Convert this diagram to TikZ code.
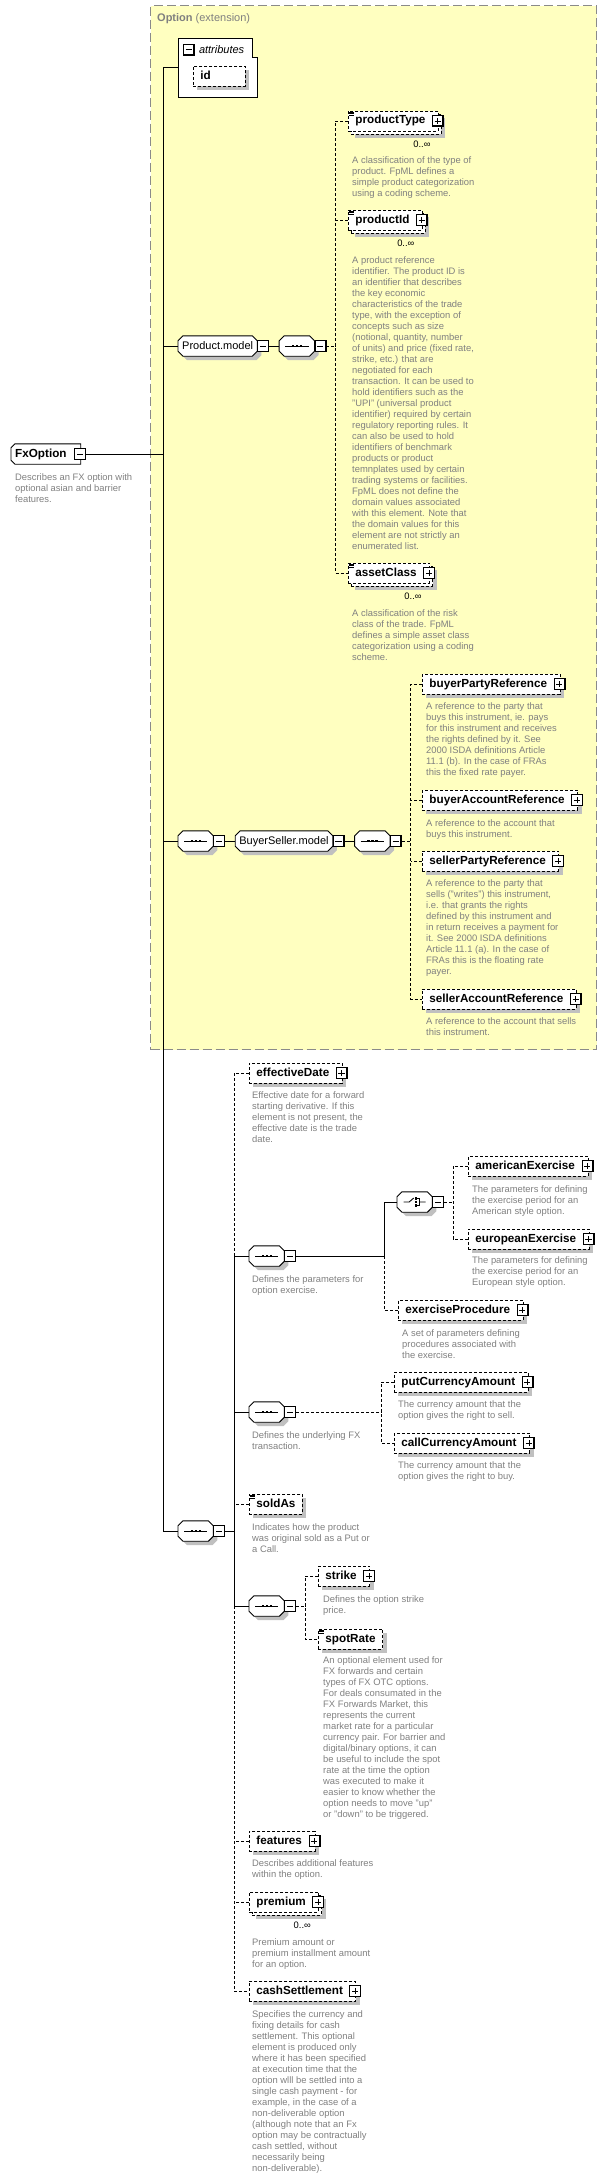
\documentclass[tikz,border=0pt]{standalone}
\usepackage{fontspec}
\setmainfont{Liberation Sans}
\usetikzlibrary{positioning,calc,shadows}

\definecolor{extfill}{HTML}{FFFFC0}
\definecolor{extline}{HTML}{8A8A8A}
\definecolor{descgray}{HTML}{808080}
\definecolor{shadowgray}{HTML}{C0C0C0}

\pgfdeclarelayer{ext}
\pgfdeclarelayer{back}
\pgfsetlayers{ext,back,main}

% element that may repeat: back copy, front box, plus box, multiplicity
\newcommand\stackelem[4]{%
  \node[elem, withplus, anchor=west] (#1back) at (#2+3,#3+3) {\phantom{#4}};
  \node[elembase, withplus, anchor=west] (#1) at (#2,#3) {#4};
  \node[plusbox] (#1-plus) at ([xshift=-1pt]#1.east) {};
  \node[mult] (#1-mult) at ([xshift=-20pt,yshift=-10pt]#1back.south east) {0..∞};
}
% simple type mark in the upper left corner
\newcommand\simplemark[1]{%
  \foreach \dy in {1.5,3,4.5}
    \draw[line width=0.6pt] ([xshift=1pt,yshift=-\dy pt]#1.north west) -- ++(5,0);
}
% octagon outline (with shadow) behind a model group or compositor node
\newcommand\octpath[1]{([xshift=5pt]#1.north west) -- ([xshift=-5pt]#1.north east)
  -- ([yshift=-5pt]#1.north east) -- ([yshift=5pt]#1.south east)
  -- ([xshift=-5pt]#1.south east) -- ([xshift=5pt]#1.south west)
  -- ([yshift=5pt]#1.south west) -- ([yshift=-5pt]#1.north west) -- cycle}
\newcommand\octo[1]{%
  \begin{pgfonlayer}{back}
    \fill[shadowgray, transform canvas={shift={(4pt,-4pt)}}] \octpath{#1};
    \draw[fill=white, line width=0.9pt] \octpath{#1};
  \end{pgfonlayer}
}
% sequence and choice marks
\newcommand\seqicon[1]{%
  \draw[line width=0.9pt] ([xshift=6pt]#1.west) -- ([xshift=-6pt]#1.east);
  \foreach \dx in {-4,0,4}
    \fill ([xshift=\dx pt]#1.center) +(-1.2,-1.2) rectangle +(1.2,1.2);
}
\newcommand\choiceicon[1]{%
  \draw[line width=0.9pt] (#1.center) +(-11,0) -- +(-5.5,0) -- +(-1,-4)
     +(4.5,0) -- +(11,0);
  \foreach \dy in {-3.5,0,3.5}
    \fill (#1.center) ++(1,\dy) +(-1.1,-1.1) rectangle +(1.1,1.1);
  \draw[line width=0.7pt] (#1.center) +(2.5,-3.5) -- +(4.5,-3.5) -- +(4.5,3.5)
     -- +(2.5,3.5);
}

\begin{document}
\begin{tikzpicture}[x=1pt, y=-1pt,
    solidline/.style = {line width=0.9pt},
    optline/.style = {line width=0.9pt, dash pattern=on 3pt off 2pt},
    extbox/.style = {draw=extline, fill=extfill, line width=1.2pt,
       dash pattern=on 9pt off 4pt},
    elembase/.style = {draw, fill=white, line width=0.9pt,
       dash pattern=on 3pt off 2pt, minimum height=20pt,
       inner xsep=7pt, inner ysep=0pt, text height=8.5pt, text depth=2.5pt,
       font=\fontsize{11.7}{14}\selectfont\bfseries},
    elem/.style = {elembase, drop shadow={shadow xshift=4pt,
       shadow yshift=-4pt, fill=shadowgray, opacity=1}},
    withplus/.style = {execute at end node={\hspace*{6pt}}},
    rootnode/.style = {minimum height=20pt, inner xsep=0pt, inner ysep=0pt,
       text height=8.5pt, text depth=2.5pt,
       font=\fontsize{11.7}{14}\selectfont\bfseries,
       execute at begin node={\hspace*{4pt}},
       execute at end node={\hspace*{14pt}}},
    compositor/.style = {minimum width=35pt, minimum height=20pt, inner sep=0pt},
    groupref/.style = {minimum height=20pt, inner xsep=4pt, inner ysep=0pt,
       text height=8.5pt, text depth=2.5pt, font=\fontsize{11}{13}\selectfont},
    plusbox/.style = {draw, fill=white, line width=0.8pt, minimum size=11pt,
       inner sep=0pt, solid, path picture={
       \draw[line width=2pt] (path picture bounding box.south west)
          -- (path picture bounding box.south east)
          -- (path picture bounding box.north east);
       \draw[line width=0.9pt] ([xshift=2.2pt]path picture bounding box.west)
          -- ([xshift=-2.7pt]path picture bounding box.east);
       \draw[line width=0.9pt] ([yshift=2.7pt]path picture bounding box.south)
          -- ([yshift=-2.2pt]path picture bounding box.north);}},
    minusbox/.style = {draw, fill=white, line width=0.8pt, minimum size=11pt,
       inner sep=0pt, solid, path picture={
       \draw[line width=2pt] (path picture bounding box.south west)
          -- (path picture bounding box.south east)
          -- (path picture bounding box.north east);
       \draw[line width=0.9pt] ([xshift=2.2pt]path picture bounding box.west)
          -- ([xshift=-2.7pt]path picture bounding box.east);}},
    mult/.style = {inner sep=0pt, font=\fontsize{9.4}{11}\selectfont},
    desc/.style = {anchor=north west, inner sep=0pt, align=left,
       text=descgray, font=\fontsize{9.4}{11}\selectfont}
]
\useasboundingbox (0,0) rectangle (610,2178);

% extension box
\begin{pgfonlayer}{ext}
\node[extbox, anchor=north west, minimum width=446pt, minimum height=1044pt]
   (ext) at (150,5) {};
\end{pgfonlayer}
\node[anchor=west, inner sep=0pt, text=descgray,
   font=\fontsize{11}{13}\selectfont] (exttitle) at (157,19)
   {\textbf{Option} (extension)};

% root element
\node[rootnode, anchor=west] (fxopt) at (11,454) {FxOption};
\begin{pgfonlayer}{back}
\draw[fill=white, line width=0.9pt] ([xshift=4pt]fxopt.north west) -- (fxopt.north east)
   -- (fxopt.south east) -- ([xshift=4pt]fxopt.south west)
   -- ([yshift=4pt]fxopt.south west) -- ([yshift=-4pt]fxopt.north west) -- cycle;
\end{pgfonlayer}
\node[minusbox] (fxoptm) at ([xshift=-0.5pt]fxopt.east) {};
\node[desc] (fxdesc) at (15,473) {Describes an FX option with\\optional asian and barrier\\features.};

% attributes
\node[inner sep=0pt, minimum width=79pt, minimum height=59pt,
   anchor=north west] (attrs) at (178,38) {};
\draw[solidline, fill=white] (attrs.north west) -- ([xshift=-5pt]attrs.north east)
   -- ++(0,19) -| (attrs.south east) -- (attrs.south west) -- cycle;
\node[minusbox, anchor=north west] (attrsm) at ([xshift=5pt,yshift=-6pt]attrs.north west) {};
\node[anchor=west, inner sep=0pt, font=\fontsize{11}{13}\selectfont\itshape]
   (attrstitle) at ([xshift=4pt]attrsm.east) {attributes};
\node[elem, anchor=west, text width=38pt] (id) at (193,76.5) {id};

% Product.model
\node[groupref, anchor=west] (pmodel) at (178,346) {Product.model};
\octo{pmodel}
\node[minusbox, anchor=west] (pmodelm) at (pmodel.east) {};
\node[compositor, right=10pt of pmodelm] (pmseq) {};
\octo{pmseq} \seqicon{pmseq}
\node[minusbox, anchor=west] (pmseqm) at (pmseq.east) {};
\coordinate[right=9pt of pmseqm] (pmfork);

\stackelem{ptype}{348}{121}{productType}
\simplemark{ptype}
\node[desc] (ptypedesc) at (352,156) {A classification of the type of\\product. FpML defines a\\simple product categorization\\using a coding scheme.};

\stackelem{pid}{348}{220}{productId}
\simplemark{pid}
\node[desc] (piddesc) at (352,256) {A product reference\\identifier. The product ID is\\an identifier that describes\\the key economic\\characteristics of the trade\\type, with the exception of\\concepts such as size\\(notional, quantity, number\\of units) and price (fixed rate,\\strike, etc.) that are\\negotiated for each\\transaction. It can be used to\\hold identifiers such as the\\"UPI" (universal product\\identifier) required by certain\\regulatory reporting rules. It\\can also be used to hold\\identifiers of benchmark\\products or product\\temnplates used by certain\\trading systems or facilities.\\FpML does not define the\\domain values associated\\with this element. Note that\\the domain values for this\\element are not strictly an\\enumerated list.};

\stackelem{aclass}{348}{573}{assetClass}
\simplemark{aclass}
\node[desc] (aclassdesc) at (352,609) {A classification of the risk\\class of the trade. FpML\\defines a simple asset class\\categorization using a coding\\scheme.};

% BuyerSeller.model
\node[compositor, anchor=west] (bsseq) at (178,841) {};
\octo{bsseq} \seqicon{bsseq}
\node[minusbox, anchor=west] (bsseqm) at (bsseq.east) {};
\node[groupref, right=10pt of bsseqm] (bsmodel) {BuyerSeller.model};
\octo{bsmodel}
\node[minusbox, anchor=west] (bsmodelm) at (bsmodel.east) {};
\node[compositor, right=10pt of bsmodelm] (bsseq2) {};
\octo{bsseq2} \seqicon{bsseq2}
\node[minusbox, anchor=west] (bsseq2m) at (bsseq2.east) {};
\coordinate[right=9pt of bsseq2m] (bsfork);

\node[elem, withplus, anchor=west] (bpr) at (422,684) {buyerPartyReference};
\node[desc] (bprdesc) at (426,702) {A reference to the party that\\buys this instrument, ie. pays\\for this instrument and receives\\the rights defined by it. See\\2000 ISDA definitions Article\\11.1 (b). In the case of FRAs\\this the fixed rate payer.};
\node[elem, withplus, anchor=west] (bar) at (422,800) {buyerAccountReference};
\node[desc] (bardesc) at (426,819) {A reference to the account that\\buys this instrument.};
\node[elem, withplus, anchor=west] (spr) at (422,861) {sellerPartyReference};
\node[desc] (sprdesc) at (426,879) {A reference to the party that\\sells ("writes") this instrument,\\i.e. that grants the rights\\defined by this instrument and\\in return receives a payment for\\it. See 2000 ISDA definitions\\Article 11.1 (a). In the case of\\FRAs this is the floating rate\\payer.};
\node[elem, withplus, anchor=west] (sar) at (422,999) {sellerAccountReference};
\node[desc] (sardesc) at (426,1017) {A reference to the account that sells\\this instrument.};

% main sequence
\node[compositor, anchor=west] (mainseq) at (178,1531) {};
\octo{mainseq} \seqicon{mainseq}
\node[minusbox, anchor=west] (mainseqm) at (mainseq.east) {};
\coordinate[right=9pt of mainseqm] (mainfork);

\node[elem, withplus, anchor=west] (effdate) at (249,1073) {effectiveDate};
\node[desc] (effdesc) at (252,1091) {Effective date for a forward\\starting derivative. If this\\element is not present, the\\effective date is the trade\\date.};

% exercise
\node[compositor, anchor=west] (exseq) at (249,1256) {};
\octo{exseq} \seqicon{exseq}
\node[minusbox, anchor=west] (exseqm) at (exseq.east) {};
\node[desc] (exdesc) at (252,1275) {Defines the parameters for\\option exercise.};
\coordinate[right=88pt of exseqm] (exfork);
\node[compositor, anchor=west] (choice) at (397,1202) {};
\octo{choice} \choiceicon{choice}
\node[minusbox, anchor=west] (choicem) at (choice.east) {};
\coordinate[right=9pt of choicem] (chfork);

\node[elem, withplus, anchor=west] (amer) at (468,1166) {americanExercise};
\node[desc] (amerdesc) at (472,1185) {The parameters for defining\\the exercise period for an\\American style option.};
\node[elem, withplus, anchor=west] (euro) at (468,1239) {europeanExercise};
\node[desc] (eurodesc) at (472,1256) {The parameters for defining\\the exercise period for an\\European style option.};
\node[elem, withplus, anchor=west] (eproc) at (398,1310) {exerciseProcedure};
\node[desc] (eprocdesc) at (402,1329) {A set of parameters defining\\procedures associated with\\the exercise.};

% underlying
\node[compositor, anchor=west] (undseq) at (249,1412) {};
\octo{undseq} \seqicon{undseq}
\node[minusbox, anchor=west] (undseqm) at (undseq.east) {};
\node[desc] (unddesc) at (252,1431) {Defines the underlying FX\\transaction.};
\coordinate[right=85pt of undseqm] (undfork);

\node[elem, withplus, anchor=west] (putamt) at (394,1382) {putCurrencyAmount};
\node[desc] (putdesc) at (398,1400) {The currency amount that the\\option gives the right to sell.};
\node[elem, withplus, anchor=west] (callamt) at (394,1443) {callCurrencyAmount};
\node[desc] (calldesc) at (398,1461) {The currency amount that the\\option gives the right to buy.};

\node[elem, anchor=west] (soldas) at (249,1504) {soldAs};
\simplemark{soldas}
\node[desc] (soldasdesc) at (252,1523) {Indicates how the product\\was original sold as a Put or\\a Call.};

% strike and spot rate
\node[compositor, anchor=west] (stseq) at (249,1606) {};
\octo{stseq} \seqicon{stseq}
\node[minusbox, anchor=west] (stseqm) at (stseq.east) {};
\coordinate[right=9pt of stseqm] (stfork);

\node[elem, withplus, anchor=west] (strike) at (318,1576) {strike};
\node[desc] (strikedesc) at (323,1595) {Defines the option strike\\price.};
\node[elem, anchor=west] (spot) at (318,1639) {spotRate};
\simplemark{spot}
\node[desc] (spotdesc) at (323,1656) {An optional element used for\\FX forwards and certain\\types of FX OTC options.\\For deals consumated in the\\FX Forwards Market, this\\represents the current\\market rate for a particular\\currency pair. For barrier and\\digital/binary options, it can\\be useful to include the spot\\rate at the time the option\\was executed to make it\\easier to know whether the\\option needs to move "up"\\or "down" to be triggered.};

\node[elem, withplus, anchor=west] (feat) at (249,1841) {features};
\node[desc] (featdesc) at (252,1859) {Describes additional features\\within the option.};
\stackelem{prem}{249}{1902}{premium}
\node[desc] (premdesc) at (252,1938) {Premium amount or\\premium installment amount\\for an option.};
\node[elem, withplus, anchor=west] (cash) at (249,1991) {cashSettlement};
\node[desc] (cashdesc) at (252,2010) {Specifies the currency and\\fixing details for cash\\settlement. This optional\\element is produced only\\where it has been specified\\at execution time that the\\option wlll be settled into a\\single cash payment - for\\example, in the case of a\\non-deliverable option\\(although note that an Fx\\option may be contractually\\cash settled, without\\necessarily being\\non-deliverable).};

\foreach \n in {bpr,bar,spr,sar,effdate,amer,euro,eproc,putamt,callamt,strike,feat,cash}
   \node[plusbox] (\n-plus) at ([xshift=-1pt]\n.east) {};

% spine
\draw[solidline] (attrs.west) -- ++(-15,0) coordinate (spine) |- (mainseq.west);
\foreach \n in {fxoptm.east, pmodel.west, bsseq.west}
   \draw[solidline] (\n) -- (\n -| spine);

% Product.model branches
\draw[solidline] (pmodelm.east) -- (pmseq.west);
\draw[optline] (pmseqm.east) -- (pmfork);
\draw[optline] (ptype.west) -| (pmfork) |- (aclass.west);
\draw[optline] (pid.west) -- (pid.west -| pmfork);

% BuyerSeller.model branches
\draw[solidline] (bsseqm.east) -- (bsmodel.west);
\draw[solidline] (bsmodelm.east) -- (bsseq2.west);
\draw[optline] (bsseq2m.east) -- (bsfork);
\draw[optline] (bpr.west) -| (bsfork) |- (sar.west);
\foreach \n in {bar, spr}
   \draw[optline] (\n.west) -- (\n.west -| bsfork);

% main sequence branches
\draw[solidline] (mainseqm.east) -- (mainfork);
\draw[optline] (effdate.west) -| (mainfork |- exseq.west);
\draw[solidline] (exseq.west) -| (mainfork |- stseq.west) -- (stseq.west);
\draw[solidline] (undseq.west) -- (undseq.west -| mainfork);
\draw[optline] (mainfork |- stseq.west) |- (cash.west);
\foreach \n in {soldas, feat, prem}
   \draw[optline] (\n.west) -- (\n.west -| mainfork);

% exercise branches
\draw[solidline] (exseqm.east) -- (exfork);
\draw[solidline] (exfork) |- (choice.west);
\draw[optline] (exfork) |- (eproc.west);
\draw[optline] (choicem.east) -- (chfork);
\draw[optline] (amer.west) -| (chfork) |- (euro.west);

% underlying branches
\draw[optline] (undseqm.east) -- (undfork);
\draw[optline] (putamt.west) -| (undfork) |- (callamt.west);

% strike branches
\draw[optline] (stseqm.east) -- (stfork);
\draw[optline] (strike.west) -| (stfork) |- (spot.west);

\end{tikzpicture}
\end{document}
